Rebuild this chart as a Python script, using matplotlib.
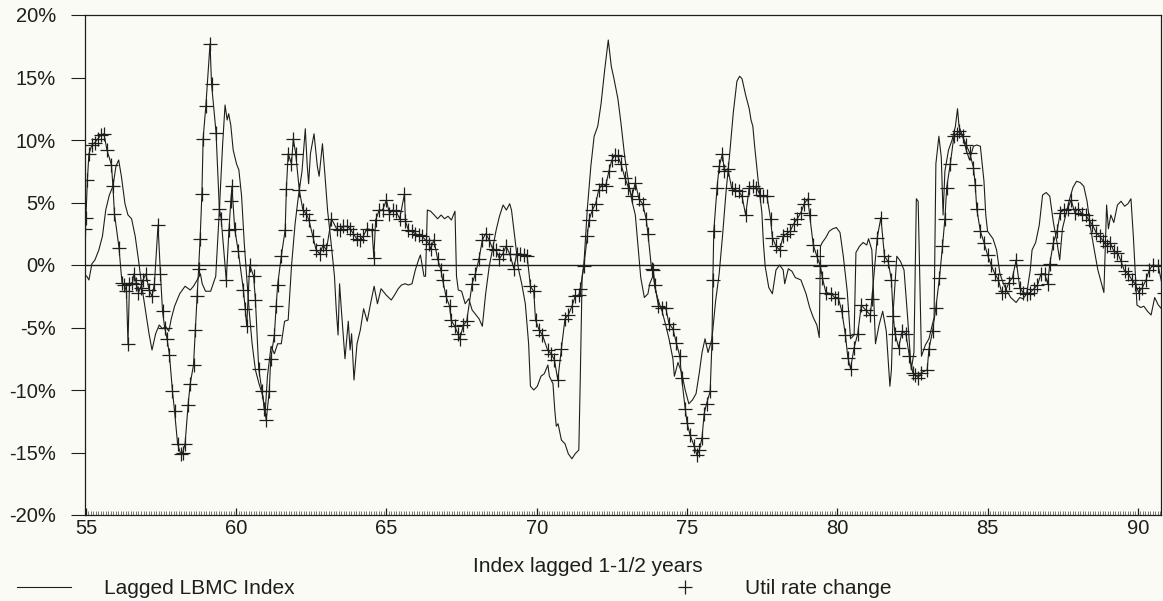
from matplotlib import pyplot as plt
from matplotlib.lines import Line2D
from matplotlib.ticker import FuncFormatter, MultipleLocator

#lagged LBMC index (year, % change)
lbmc_years = [54.97, 55.03, 55.10, 55.20, 55.30, 55.43, 55.55, 55.66, 55.78, 55.90, 56.00, 56.09, 56.18, 56.30, 56.40,
              56.52, 56.64, 56.75, 56.86, 56.98, 57.10, 57.20, 57.32, 57.44, 57.55, 57.65, 57.76, 57.84, 57.95, 58.12,
              58.30, 58.47, 58.58, 58.70, 58.81, 58.87, 58.98, 59.15, 59.32, 59.44, 59.55, 59.63, 59.70, 59.75, 59.82,
              59.90, 60.01, 60.09, 60.18, 60.27, 60.35, 60.43, 60.53, 60.64, 60.76, 60.89, 60.96, 61.04, 61.16, 61.27,
              61.38, 61.50, 61.61, 61.73, 61.84, 61.96, 62.07, 62.19, 62.30, 62.36, 62.41, 62.47, 62.59, 62.70, 62.76,
              62.87, 62.95, 63.04, 63.16, 63.27, 63.33, 63.39, 63.44, 63.50, 63.62, 63.73, 63.79, 63.84, 63.92, 64.02,
              64.13, 64.24, 64.36, 64.47, 64.59, 64.70, 64.82, 64.99, 65.16, 65.27, 65.39, 65.50, 65.62, 65.73, 65.85,
              65.96, 66.08, 66.13, 66.25, 66.30, 66.36, 66.47, 66.59, 66.70, 66.82, 66.93, 67.05, 67.16, 67.28, 67.33,
              67.39, 67.50, 67.62, 67.74, 67.85, 68.08, 68.19, 68.30, 68.42, 68.53, 68.65, 68.76, 68.88, 68.99, 69.10,
              69.16, 69.28, 69.39, 69.50, 69.62, 69.73, 69.79, 69.90, 70.02, 70.14, 70.25, 70.37, 70.42, 70.54, 70.60,
              70.65, 70.71, 70.82, 70.94, 71.05, 71.17, 71.28, 71.40, 71.45, 71.51, 71.57, 71.68, 71.80, 71.91, 72.03,
              72.14, 72.26, 72.38, 72.48, 72.57, 72.70, 72.80, 72.93, 73.05, 73.17, 73.28, 73.40, 73.46, 73.58, 73.70,
              73.76, 73.88, 73.93, 74.05, 74.17, 74.29, 74.40, 74.53, 74.58, 74.70, 74.82, 74.94, 75.06, 75.18, 75.30,
              75.41, 75.50, 75.60, 75.70, 75.83, 75.95, 76.07, 76.18, 76.30, 76.42, 76.54, 76.66, 76.75, 76.83, 76.95,
              77.07, 77.13, 77.19, 77.25, 77.37, 77.49, 77.54, 77.60, 77.72, 77.84, 77.96, 78.08, 78.20, 78.25, 78.37,
              78.49, 78.60, 78.79, 78.96, 79.08, 79.20, 79.32, 79.40, 79.44, 79.50, 79.62, 79.73, 79.85, 79.97, 80.09,
              80.20, 80.33, 80.44, 80.56, 80.62, 80.74, 80.86, 80.98, 81.04, 81.15, 81.27, 81.39, 81.51, 81.63, 81.75,
              81.80, 81.86, 81.98, 82.10, 82.22, 82.34, 82.46, 82.55, 82.63, 82.69, 82.80, 82.93, 83.05, 83.22, 83.28,
              83.38, 83.46, 83.52, 83.58, 83.70, 83.82, 83.93, 84.00, 84.05, 84.17, 84.29, 84.40, 84.53, 84.64, 84.76,
              84.88, 84.94, 85.00, 85.18, 85.30, 85.41, 85.53, 85.65, 85.77, 85.95, 86.07, 86.18, 86.30, 86.42, 86.48,
              86.60, 86.72, 86.83, 86.95, 87.07, 87.19, 87.31, 87.40, 87.49, 87.60, 87.72, 87.84, 87.96, 88.08, 88.20,
              88.31, 88.43, 88.55, 88.67, 88.79, 88.87, 88.96, 89.02, 89.10, 89.20, 89.32, 89.44, 89.56, 89.67, 89.77,
              89.85, 89.97, 90.09, 90.20, 90.32, 90.44, 90.56, 90.68, 90.86]
lbmc_vals = [-0.8, -0.9, -1.2, 0.1, 0.4, 1.2, 2.3, 4.4, 5.6, 6.3, 7.9, 8.4, 7.1, 4.9, 4.0,
             3.7, 2.3, 0.4, -1.7, -3.6, -5.5, -6.8, -5.5, -4.8, -5.1, -4.9, -5.3, -4.3, -3.3, -2.3,
             -1.7, -2.0, -1.7, -1.2, -0.7, -1.5, -2.1, -2.1, -0.9, 4.4, 9.7, 12.8, 11.6, 12.1, 11.2,
             9.2, 8.1, 7.6, 5.5, 1.7, -0.9, -3.6, -6.3, -8.4, -9.5, -10.5, -12.0, -8.9, -6.5, -7.1,
             -6.3, -6.3, -4.5, -4.4, -0.1, 3.3, 5.5, 7.5, 10.9, 8.1, 6.5, 8.9, 10.5, 7.9, 7.1,
             9.7, 7.3, 4.4, 1.7, -0.9, -3.6, -5.6, -1.5, -3.6, -7.5, -4.5, -6.8, -5.5, -9.2, -6.3,
             -5.2, -3.5, -4.5, -3.1, -1.7, -3.1, -1.9, -2.4, -2.8, -2.4, -1.9, -1.6, -1.5, -1.6, -1.5,
             -0.4, 0.5, 0.8, -0.9, -0.9, 4.4, 4.3, 4.0, 3.7, 4.0, 3.7, 3.9, 3.6, 4.3, -0.9,
             -2.0, -2.1, -3.1, -2.7, -3.6, -4.3, -4.9, -2.3, -0.1, 1.3, 2.8, 3.9, 4.8, 4.4, 4.9,
             4.4, 2.0, -0.3, -1.5, -3.1, -6.3, -9.7, -10.0, -9.7, -8.9, -8.7, -8.0, -8.9, -9.5, -11.6,
             -12.9, -12.7, -14.0, -14.3, -15.1, -15.5, -15.1, -14.8, -8.9, -0.9, 0.1, 4.4, 7.9, 10.3, 11.1,
             12.9, 15.6, 18.0, 15.9, 14.9, 13.3, 11.4, 8.6, 6.7, 5.1, 4.0, 0.7, -1.0, -2.6, -2.3,
             -1.5, -0.8, -1.8, -2.9, -3.7, -4.8, -5.9, -7.5, -8.9, -7.8, -8.6, -10.0, -11.1, -10.8, -10.3,
             -8.6, -7.0, -5.9, -7.0, -5.9, -2.9, -0.7, 2.3, 5.9, 8.9, 12.2, 14.7, 15.1, 14.9, 13.6,
             12.5, 11.6, 11.1, 9.5, 6.7, 4.2, 1.8, -0.1, -1.8, -2.3, -0.4, 0.0, -0.4, -1.5, -0.3,
             -0.5, -1.0, -1.2, -2.3, -3.4, -4.2, -4.8, -5.8, 1.5, 1.8, 2.2, 2.7, 2.9, 3.0, 2.6,
             0.7, -2.1, -5.9, -5.6, 1.0, 1.5, 1.8, 1.6, 2.1, 1.2, -6.3, -4.8, -3.7, -5.3, -9.7,
             -8.4, -3.7, 0.7, 0.3, -0.4, -4.2, -8.4, -7.0, 5.3, 5.1, -7.3, -6.4, -5.9, -4.2, 8.1,
             10.3, 8.6, 4.0, 7.5, 9.2, 10.0, 11.1, 12.5, 11.1, 10.3, 9.2, 8.4, 9.5, 9.6, 9.5,
             6.7, 4.0, 2.7, 2.1, 1.2, -0.7, -1.5, -2.1, -2.6, -3.0, -2.6, -2.7, -2.3, -0.4, 1.2,
             1.8, 3.2, 5.6, 5.8, 5.5, 3.4, 1.8, 0.4, 2.9, 4.0, 5.2, 6.2, 6.7, 6.6, 6.3,
             5.1, 2.9, 1.2, -0.4, -1.5, -2.2, 4.8, 2.9, 4.0, 3.4, 4.8, 5.1, 4.7, 4.9, 5.3,
             2.3, -3.2, -3.4, -3.3, -3.7, -4.0, -2.6, -3.2, -3.7]

#utilization rate change (year, % change)
util_years = [54.97, 55.00, 55.05, 55.10, 55.20, 55.30, 55.40, 55.50, 55.60, 55.70, 55.85, 55.90, 55.95, 56.10, 56.20,
              56.28, 56.35, 56.40, 56.45, 56.55, 56.60, 56.68, 56.75, 56.82, 56.90, 57.00, 57.10, 57.20, 57.28, 57.40,
              57.48, 57.55, 57.62, 57.70, 57.78, 57.88, 57.95, 58.05, 58.15, 58.22, 58.30, 58.40, 58.47, 58.58, 58.64,
              58.70, 58.75, 58.80, 58.86, 58.90, 58.99, 59.13, 59.18, 59.33, 59.44, 59.50, 59.67, 59.76, 59.82, 59.86,
              59.95, 60.07, 60.24, 60.30, 60.35, 60.45, 60.58, 60.64, 60.75, 60.86, 60.94, 61.00, 61.10, 61.15, 61.27,
              61.33, 61.38, 61.50, 61.63, 61.67, 61.73, 61.84, 61.90, 61.98, 62.10, 62.22, 62.33, 62.42, 62.55, 62.66,
              62.78, 62.89, 63.00, 63.17, 63.34, 63.45, 63.56, 63.68, 63.79, 63.90, 64.01, 64.12, 64.23, 64.35, 64.52,
              64.58, 64.64, 64.76, 64.87, 65.00, 65.10, 65.21, 65.32, 65.44, 65.60, 65.63, 65.73, 65.84, 65.96, 66.07,
              66.18, 66.30, 66.41, 66.47, 66.58, 66.70, 66.81, 66.87, 66.98, 67.10, 67.15, 67.27, 67.38, 67.44, 67.56,
              67.67, 67.85, 67.96, 68.08, 68.19, 68.30, 68.42, 68.53, 68.64, 68.76, 68.87, 68.98, 69.10, 69.24, 69.33,
              69.45, 69.56, 69.68, 69.79, 69.90, 69.96, 70.08, 70.19, 70.36, 70.48, 70.59, 70.70, 70.82, 70.94, 71.05,
              71.17, 71.28, 71.40, 71.45, 71.57, 71.68, 71.74, 71.85, 71.96, 72.06, 72.18, 72.29, 72.40, 72.50, 72.60,
              72.70, 72.80, 72.93, 73.05, 73.17, 73.28, 73.40, 73.52, 73.64, 73.70, 73.82, 73.88, 73.93, 74.05, 74.17,
              74.29, 74.40, 74.53, 74.64, 74.76, 74.82, 74.94, 75.00, 75.10, 75.24, 75.33, 75.41, 75.50, 75.57, 75.65,
              75.77, 75.83, 75.86, 75.89, 76.00, 76.07, 76.18, 76.24, 76.36, 76.48, 76.60, 76.72, 76.83, 76.95, 77.07,
              77.19, 77.31, 77.43, 77.54, 77.66, 77.78, 77.84, 77.96, 78.08, 78.20, 78.31, 78.43, 78.55, 78.67, 78.79,
              78.90, 79.02, 79.08, 79.20, 79.32, 79.44, 79.50, 79.62, 79.80, 79.91, 80.03, 80.15, 80.27, 80.35, 80.44,
              80.56, 80.68, 80.80, 80.94, 81.10, 81.15, 81.33, 81.45, 81.57, 81.69, 81.80, 81.86, 81.92, 82.04, 82.16,
              82.28, 82.40, 82.51, 82.60, 82.69, 82.80, 82.99, 83.05, 83.17, 83.28, 83.40, 83.50, 83.58, 83.64, 83.76,
              83.88, 83.97, 84.05, 84.17, 84.29, 84.40, 84.53, 84.59, 84.64, 84.76, 84.88, 85.00, 85.12, 85.24, 85.36,
              85.47, 85.59, 85.71, 85.83, 85.95, 86.07, 86.18, 86.30, 86.42, 86.54, 86.66, 86.78, 86.90, 87.00, 87.07,
              87.19, 87.31, 87.42, 87.54, 87.66, 87.78, 87.90, 88.02, 88.14, 88.26, 88.37, 88.49, 88.61, 88.73, 88.85,
              88.96, 89.08, 89.20, 89.32, 89.44, 89.56, 89.68, 89.80, 89.91, 90.03, 90.15, 90.27, 90.38, 90.50, 90.68,
              90.86]
util_vals = [2.9, 3.8, 6.8, 8.9, 9.6, 9.8, 10.1, 10.4, 10.5, 9.2, 8.0, 6.3, 4.1, 1.4, -1.4,
             -1.6, -2.1, -6.3, -1.5, -1.4, -0.7, -1.5, -2.2, -1.8, -1.2, -0.7, -2.0, -2.5, -1.5, 3.2,
             -0.7, -3.7, -5.0, -5.9, -7.2, -10.1, -11.7, -14.3, -15.1, -15.0, -14.3, -11.2, -9.5, -8.0, -5.2,
             -2.5, -0.3, 2.1, 5.7, 10.1, 12.7, 17.7, 14.5, 10.6, 4.5, 3.7, -1.2, 2.8, 5.1, 6.3,
             2.9, 1.1, -2.0, -3.5, -4.9, 0.0, -0.9, -2.8, -8.3, -10.1, -11.5, -12.4, -10.1, -7.5, -5.6,
             -3.3, -1.6, 0.7, 2.8, 6.1, 8.9, 8.1, 10.1, 8.9, 6.0, 4.4, 4.1, 3.6, 2.3, 1.2,
             0.9, 1.6, 1.2, 3.7, 2.9, 2.8, 3.1, 3.1, 2.9, 2.5, 2.1, 2.0, 2.3, 2.9, 2.8,
             0.6, 3.6, 4.4, 4.4, 5.2, 4.1, 4.4, 4.3, 3.7, 5.7, 3.5, 2.8, 2.7, 2.5, 2.4,
             2.3, 2.0, 1.7, 1.3, 2.0, 0.5, -0.4, -1.2, -2.5, -3.3, -4.4, -4.9, -5.5, -5.9, -4.8,
             -4.5, -1.5, -0.7, 0.5, 2.0, 2.5, 2.0, 1.3, 1.2, 0.5, 0.9, 1.5, 0.9, -0.3, 0.9,
             0.9, 0.8, 0.7, -1.7, -2.1, -4.4, -5.2, -5.6, -6.8, -7.1, -7.6, -9.2, -6.7, -4.3, -4.0,
             -3.3, -2.5, -2.4, -1.9, -0.1, 2.3, 3.6, 4.4, 4.9, 6.0, 6.5, 6.3, 7.5, 8.4, 8.8,
             8.7, 8.1, 7.0, 6.2, 5.5, 6.6, 5.3, 4.9, 3.7, 2.5, -0.3, -0.4, -1.6, -3.3, -3.4,
             -3.4, -4.7, -5.1, -6.2, -7.3, -9.0, -11.5, -12.6, -13.6, -14.5, -15.2, -14.8, -13.8, -11.9, -11.1,
             -10.1, -6.2, -1.2, 2.7, 6.2, 7.9, 8.9, 7.5, 7.7, 6.2, 6.0, 5.9, 5.5, 4.0, 6.2,
             6.3, 6.2, 5.6, 5.5, 5.5, 3.7, 2.2, 1.5, 1.2, 2.3, 2.5, 2.7, 3.3, 3.7, 4.2,
             4.9, 5.3, 4.0, 1.6, 0.7, -0.1, -1.0, -2.2, -2.3, -2.6, -2.6, -3.7, -5.6, -7.4, -8.3,
             -6.6, -5.5, -3.2, -3.6, -4.0, -2.7, 2.2, 3.8, 0.7, 0.3, -1.2, -4.1, -5.5, -6.6, -5.3,
             -5.5, -7.3, -8.6, -8.8, -9.0, -8.6, -8.4, -6.7, -5.3, -3.4, -1.0, 1.5, 3.7, 6.2, 8.1,
             10.3, 10.5, 10.7, 10.3, 9.6, 9.0, 7.8, 6.4, 4.5, 2.7, 1.8, 0.8, 0.0, -0.7, -1.2,
             -2.2, -2.1, -1.4, -1.0, 0.4, -1.8, -2.2, -2.3, -2.2, -1.9, -1.6, -0.7, -0.7, -1.5, 0.1,
             1.8, 2.7, 4.2, 4.4, 4.5, 5.2, 4.2, 4.5, 4.1, 4.0, 3.6, 3.2, 2.6, 2.3, 1.9,
             1.5, 1.8, 1.1, 1.0, 0.3, -0.5, -0.7, -1.2, -1.5, -2.2, -1.8, -1.2, -0.4, 0.0, -0.1,
             -2.2]

y_ticks = [-20, -15, -10, -5, 0, 5, 10, 15, 20]
x_ticks = [55, 60, 65, 70, 75, 80, 85, 90]

ink = '#1e1e1e'
paper = '#fbfbf6'

plt.rcParams['font.family'] = ['Liberation Sans', 'DejaVu Sans']


def pct(v, pos):
    #plain hyphen like the scan, no unicode minus
    return '%d%%' % v


def draw():
    fig = plt.figure(figsize=(11.63, 6.01), dpi=100, facecolor=paper)
    ax = fig.add_axes([85 / 1163, 1 - 515 / 601, (1161 - 85) / 1163, 500 / 601])
    ax.set_facecolor(paper)

    ax.plot(lbmc_years, lbmc_vals, color=ink, lw=0.8)
    ax.plot(util_years, util_vals, color=ink, lw=0.8, marker='+', markersize=10, markeredgewidth=0.9)
    ax.axhline(0, color=ink, lw=1.0)

    ax.set_xlim(54.97, 90.77)
    ax.set_ylim(-20, 20)

    #y axis: outward ticks with percent labels
    ax.set_yticks(y_ticks)
    ax.yaxis.set_major_formatter(FuncFormatter(pct))
    ax.tick_params(axis='y', direction='out', length=10, width=0.8, pad=11, labelsize=14.5, colors=ink)

    #x axis: small inward ticks, dense monthly minor ticks
    ax.set_xticks(x_ticks)
    ax.xaxis.set_minor_locator(MultipleLocator(1 / 12))
    ax.tick_params(axis='x', which='major', direction='in', length=5, width=0.9, pad=3, labelsize=14.5, colors=ink)
    ax.tick_params(axis='x', which='minor', direction='in', length=3, width=0.5, colors='#444444')

    for side in ['left', 'right', 'top', 'bottom']:
        ax.spines[side].set_color(ink)
        ax.spines[side].set_linewidth(0.9)

    ax.set_xlabel('Index lagged 1-1/2 years', fontsize=15, color=ink, va='center')
    ax.xaxis.set_label_coords((588 - 85) / 1076, (515 - 566) / 500)

    handles = [Line2D([], [], color=ink, lw=0.8),
               Line2D([], [], color=ink, ls='none', marker='+', markersize=10, markeredgewidth=0.9)]
    fig.legend(handles, ['Lagged LBMC Index', 'Util rate change'], loc='center left',
               bbox_to_anchor=(17 / 1163, 1 - 589 / 601), ncol=2, frameon=False, fontsize=15,
               handlelength=2.6, handletextpad=1.6, columnspacing=17.4, borderpad=0, borderaxespad=0,
               labelcolor=ink)

    fig.savefig('out.png', dpi=100, facecolor=paper)


if __name__ == "__main__":
    draw()
